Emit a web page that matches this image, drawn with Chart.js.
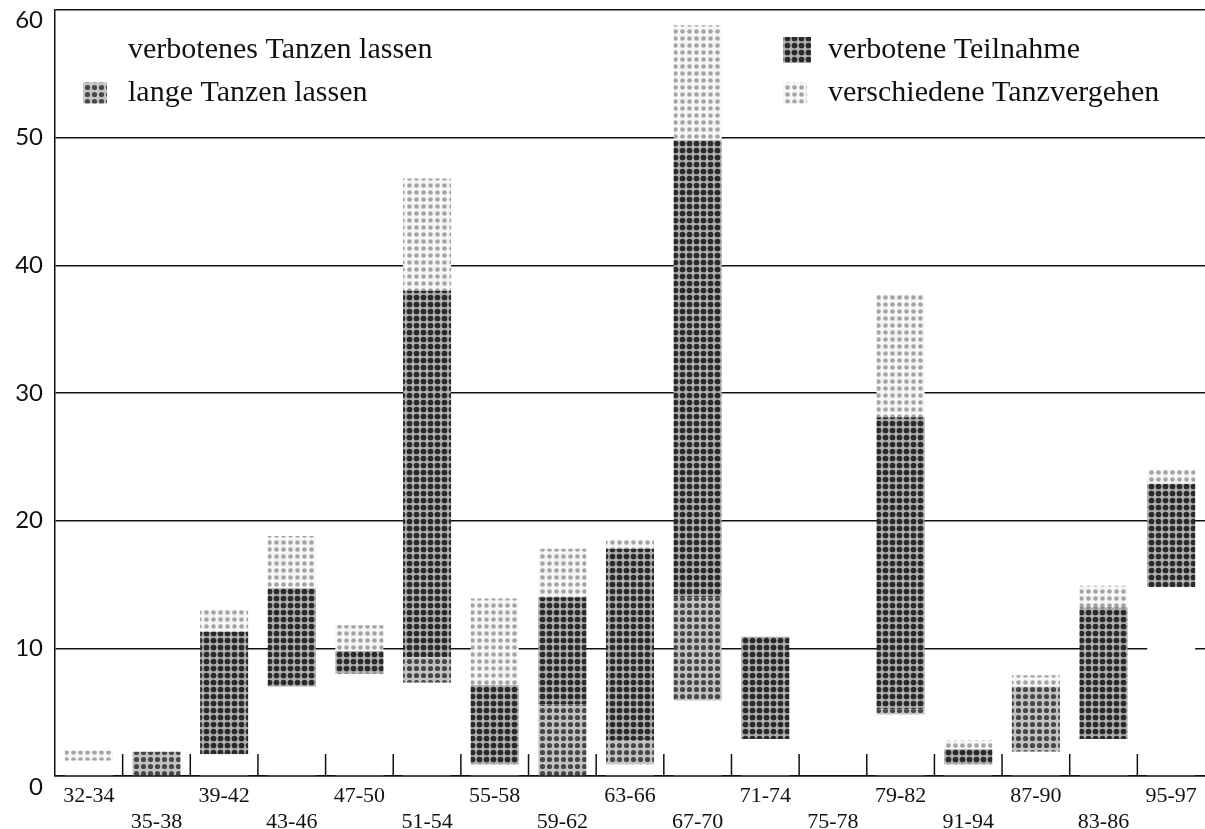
<!DOCTYPE html>
<html>
<head>
<meta charset="utf-8">
<script src="https://cdn.jsdelivr.net/npm/chart.js@4.4.1/dist/chart.umd.min.js"></script>
<style>
  html, body { margin: 0; padding: 0; background: #fff; }
  #wrap { width: 1205px; height: 829px; }
</style>
</head>
<body>
<div id="wrap"><canvas id="chart"></canvas></div>
<script>
// periods as printed on the axis (order kept as in the original)
const periods = ['32-34', '35-38', '39-42', '43-46', '47-50', '51-54', '55-58', '59-62', '63-66',
  '67-70', '71-74', '75-78', '79-82', '91-94', '87-90', '83-86', '95-97'];

// stacked segments, bottom to top
const verbotenesTanzen = [1.2, 0, 1.7, 7.0, 8.0, 7.3, 0.9, 0, 0.9, 5.9, 2.9, 0, 4.8, 0.9, 1.9, 2.9, 14.8];
const langeTanzen      = [0, 1.9, 0, 0, 0, 2.0, 0, 5.6, 1.9, 8.1, 0, 0, 0.4, 0, 5.1, 0, 0];
const verboteneTeiln   = [0, 0, 9.6, 7.7, 1.8, 28.7, 6.2, 8.4, 15.0, 35.8, 8.0, 0, 22.9, 1.2, 0, 10.3, 8.1];
const verschiedene     = [0.8, 0, 1.7, 4.1, 2.0, 8.8, 6.8, 3.8, 0.7, 9.0, 0, 0, 9.6, 0.7, 0.9, 1.7, 1.1];

const yTicks = [0, 10, 20, 30, 40, 50, 60];

// halftone-like dot pattern
function halftone(bg, dot, size, radius) {
  const c = document.createElement('canvas');
  c.width = c.height = size;
  const g = c.getContext('2d');
  g.fillStyle = bg;
  g.fillRect(0, 0, size, size);
  g.fillStyle = dot;
  g.beginPath();
  g.arc(size / 2, size / 2, radius, 0, Math.PI * 2);
  g.fill();
  return g.createPattern(c, 'repeat');
}

const patLange = halftone('#c4c4c4', '#484848', 7, 2.6);
const patTeiln = halftone('#b0b0b0', '#2a2a2a', 7, 2.85);
const patVersch = halftone('#f6f6f6', '#a4a4a4', 7, 2.3);

const serif = '"Liberation Serif", "DejaVu Serif", serif';
const sans = 'Lato, "Open Sans", sans-serif';

// short tick marks between the periods, standing up from the base line
const boundaryTicks = {
  id: 'boundaryTicks',
  beforeDatasetsDraw(chart) {
    const { ctx, chartArea, scales } = chart;
    const xs = scales.x;
    ctx.save();
    ctx.strokeStyle = '#111';
    ctx.lineWidth = 1.5;
    for (let i = 1; i < periods.length; i++) {
      const x = (xs.getPixelForValue(i - 1) + xs.getPixelForValue(i)) / 2;
      ctx.beginPath();
      ctx.moveTo(x, chartArea.bottom);
      ctx.lineTo(x, chartArea.bottom - 22);
      ctx.stroke();
    }
    ctx.restore();
  }
};

// the end labels 0 and 60 sit a bit inside, as in the print
const endLabels = {
  id: 'endLabels',
  afterDraw(chart) {
    const { ctx, scales } = chart;
    const ys = scales.y;
    ctx.save();
    ctx.font = '24px ' + sans;
    ctx.fillStyle = '#111';
    ctx.textAlign = 'right';
    ctx.textBaseline = 'middle';
    ctx.fillText('60', ys.right - 12, ys.getPixelForValue(60) + 10);
    ctx.fillText('0', ys.right - 12, ys.getPixelForValue(0) + 11);
    ctx.restore();
  }
};

// legend in two columns inside the plot
const pictureLegend = {
  id: 'pictureLegend',
  afterDraw(chart) {
    const { ctx, chartArea } = chart;
    const ds = chart.data.datasets;
    const cols = [
      { x: chartArea.left + 28, items: [0, 1] },
      { x: chartArea.left + 728, items: [2, 3] }
    ];
    const rows = [50, 93];
    ctx.save();
    ctx.font = '30px ' + serif;
    ctx.textBaseline = 'middle';
    cols.forEach(col => {
      col.items.forEach((idx, r) => {
        const y = chartArea.top + rows[r] - 10;
        const big = idx === 2;
        const w = big ? 28 : 24, h = big ? 26 : 21;
        ctx.fillStyle = ds[idx].backgroundColor;
        ctx.fillRect(col.x, y - h / 2, w, h);
        ctx.fillStyle = '#111';
        ctx.fillText(ds[idx].label, col.x + 45, y);
      });
    });
    ctx.restore();
  }
};

new Chart(document.getElementById('chart'), {
  type: 'bar',
  data: {
    labels: periods.map((p, i) => i % 2 === 0 ? [p] : ['', p]),
    datasets: [
      { label: 'verbotenes Tanzen lassen', data: verbotenesTanzen, backgroundColor: '#ffffff' },
      { label: 'lange Tanzen lassen', data: langeTanzen, backgroundColor: patLange },
      { label: 'verbotene Teilnahme', data: verboteneTeiln, backgroundColor: patTeiln },
      { label: 'verschiedene Tanzvergehen', data: verschiedene, backgroundColor: patVersch }
    ]
  },
  options: {
    responsive: true,
    maintainAspectRatio: false,
    animation: false,
    layout: { padding: { top: 10, right: 0, left: 0, bottom: 0 } },
    datasets: { bar: { categoryPercentage: 1, barPercentage: 0.71, borderWidth: 0 } },
    plugins: {
      legend: { display: false },
      tooltip: { enabled: false }
    },
    scales: {
      x: {
        stacked: true,
        grid: { display: false, drawTicks: false },
        border: { display: true, color: '#111', width: 1.5 },
        ticks: {
          color: '#111',
          font: { family: serif, size: 22, lineHeight: 1.15 },
          maxRotation: 0,
          autoSkip: false,
          padding: 8
        },
        afterFit(scale) { scale.height = 53; }
      },
      y: {
        stacked: true,
        min: 0,
        max: 60,
        afterBuildTicks(scale) { scale.ticks = yTicks.map(v => ({ value: v })); },
        grid: { color: '#111', lineWidth: 1.5, drawTicks: false },
        border: { display: true, color: '#111', width: 1.5 },
        ticks: {
          color: '#111',
          font: { family: sans, size: 24 },
          padding: 12,
          callback: v => (v === 0 || v === 60) ? '' : String(v)
        },
        afterFit(scale) {
          scale.width = 55;
          scale.paddingTop = 0;
          scale.paddingBottom = 0;
        }
      }
    }
  },
  plugins: [boundaryTicks, endLabels, pictureLegend]
});
</script>
</body>
</html>
